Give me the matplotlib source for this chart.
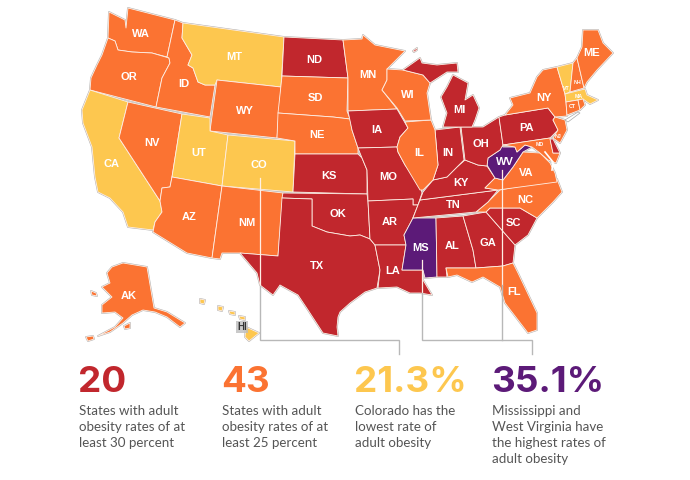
import matplotlib
matplotlib.use('Agg')
import matplotlib.pyplot as plt
from matplotlib.patches import Polygon

# tiers of the map, one list per colour
top_states = ['WV', 'MS']
high_states = ['ND', 'IA', 'KS', 'MO', 'OK', 'TX', 'AR', 'LA', 'AL', 'GA', 'SC', 'TN', 'KY', 'IN', 'OH', 'MI', 'MI2',
               'MI3', 'PA', 'DE']
mid_states = ['WA', 'OR', 'ID', 'WY', 'SD', 'NE', 'NV', 'AZ', 'NM', 'MN', 'WI', 'IL', 'FL', 'NC', 'VA', 'MD', 'NJ',
              'NY', 'NH', 'ME', 'CT', 'RI', 'AK', 'AK2', 'AK3', 'AK4']
low_states = ['CA', 'MT', 'UT', 'CO', 'VT', 'MA', 'HI', 'HI2', 'HI3', 'HI4', 'HI5']

big_numbers = ['20', '43', '21.3%', '35.1%']
captions = [
    ['States with adult', 'obesity rates of at', 'least 30 percent'],
    ['States with adult', 'obesity rates of at', 'least 25 percent'],
    ['Colorado has the', 'lowest rate of', 'adult obesity'],
    ['Mississippi and', 'West Virginia have', 'the highest rates of', 'adult obesity'],
]

# state outlines
outlines = {
    'WA': [(109, 12), (125, 20), (126, 28), (128, 8), (175, 20), (167, 57), (152, 53), (132, 52), (118, 50), (115, 41),
           (108, 38)],
    'OR': [(108, 38), (115, 41), (118, 50), (132, 52), (152, 53), (169, 58), (170, 63), (162, 78), (156, 107), (90, 90),
           (91, 78), (97, 65), (102, 55)],
    'CA': [(90, 90), (128, 102), (119, 138), (160, 201), (162, 212), (155, 222), (153, 230), (128, 227), (123, 212),
           (110, 198), (98, 192), (95, 177), (92, 147), (83, 123), (82, 110)],
    'NV': [(128, 102), (182, 114), (172, 177), (170, 187), (162, 188), (160, 201), (119, 138)],
    'ID': [(175, 20), (183, 23), (182, 38), (192, 55), (188, 65), (193, 68), (198, 82), (205, 85), (215, 85), (210, 117),
           (156, 107), (162, 78), (170, 63), (169, 58), (167, 57)],
    'MT': [(183, 23), (284, 37), (281, 87), (217, 80), (215, 85), (205, 85), (198, 82), (193, 68), (188, 65), (192, 55),
           (182, 38)],
    'WY': [(217, 80), (281, 87), (277, 138), (210, 131)],
    'UT': [(182, 114), (210, 118), (210, 131), (228, 135), (222, 186), (172, 177)],
    'CO': [(228, 135), (295, 141), (293, 192), (222, 186)],
    'AZ': [(172, 177), (222, 186), (212, 258), (187, 253), (153, 232), (155, 222), (162, 212), (160, 201), (162, 188),
           (170, 187)],
    'NM': [(222, 186), (283, 193), (278, 256), (239, 253), (222, 253), (220, 259), (212, 258)],
    'ND': [(284, 37), (343, 40), (348, 78), (282, 76)],
    'SD': [(282, 76), (348, 78), (347, 111), (350, 119), (333, 117), (278, 113)],
    'NE': [(278, 113), (333, 117), (350, 119), (352, 130), (358, 148), (358, 154), (295, 154), (295, 141), (277, 138)],
    'KS': [(295, 154), (358, 154), (362, 158), (367, 170), (367, 194), (293, 192)],
    'OK': [(283, 193), (367, 194), (368, 201), (370, 239), (360, 235), (350, 236), (327, 232), (312, 226), (312, 199),
           (282, 198)],
    'TX': [(282, 198), (312, 199), (312, 226), (327, 232), (350, 236), (360, 235), (370, 239), (375, 245), (380, 270),
           (377, 288), (365, 292), (350, 303), (340, 312), (338, 317), (337, 327), (338, 336), (323, 333), (308, 310),
           (298, 295), (280, 285), (273, 295), (260, 285), (257, 273), (240, 253), (278, 256)],
    'MN': [(343, 40), (362, 39), (363, 35), (375, 45), (405, 51), (387, 69), (387, 80), (382, 90), (397, 109), (348, 111),
           (348, 78)],
    'IA': [(348, 111), (397, 109), (408, 128), (400, 137), (397, 147), (358, 148), (352, 130)],
    'MO': [(358, 148), (397, 147), (398, 152), (405, 165), (415, 178), (420, 185), (422, 193), (418, 205), (413, 205),
           (413, 199), (368, 201), (367, 170), (362, 158)],
    'AR': [(368, 201), (413, 199), (413, 205), (418, 205), (412, 220), (404, 235), (406, 245), (375, 245), (370, 239)],
    'LA': [(375, 245), (406, 245), (402, 270), (423, 270), (423, 280), (432, 295), (420, 293), (410, 293), (397, 287),
           (378, 288), (380, 270)],
    'MS': [(413, 218), (436, 218), (437, 277), (425, 278), (423, 270), (402, 270), (406, 245), (404, 235)],
    'AL': [(436, 218), (463, 216), (473, 250), (476, 268), (446, 268), (447, 277), (437, 277)],
    'GA': [(463, 216), (486, 212), (515, 245), (513, 263), (503, 266), (476, 268), (473, 250)],
    'SC': [(486, 212), (490, 208), (520, 208), (537, 218), (528, 235), (515, 245)],
    'FL': [(446, 268), (476, 268), (503, 266), (513, 263), (518, 273), (537, 313), (537, 330), (528, 333), (505, 303),
           (500, 287), (483, 277), (472, 282), (457, 275), (448, 277)],
    'NC': [(500, 190), (557, 179), (562, 192), (553, 202), (537, 218), (520, 208), (490, 208), (486, 212), (476, 212),
           (488, 202)],
    'TN': [(420, 200), (498, 190), (488, 202), (476, 212), (413, 218), (418, 205)],
    'KY': [(423, 192), (433, 180), (447, 177), (457, 167), (465, 160), (478, 165), (487, 166), (495, 178), (485, 188),
           (498, 190), (420, 200)],
    'VA': [(485, 188), (495, 178), (503, 180), (513, 167), (523, 152), (540, 153), (550, 163), (555, 173), (557, 182),
           (498, 190)],
    'WV': [(501, 145), (503, 147), (515, 147), (517, 152), (525, 145), (532, 147), (523, 152), (513, 167), (503, 180),
           (495, 178), (487, 165), (488, 158), (500, 150)],
    'OH': [(461, 127), (473, 127), (483, 127), (499, 117), (503, 145), (500, 150), (488, 158), (487, 166), (478, 165),
           (465, 160)],
    'IN': [(435, 130), (460, 127), (464, 160), (457, 167), (447, 177), (433, 180), (438, 165)],
    'IL': [(405, 122), (431, 120), (435, 130), (438, 165), (433, 180), (423, 190), (420, 190), (405, 165), (398, 152),
           (397, 147), (400, 137), (408, 128)],
    'WI': [(387, 69), (403, 70), (423, 75), (430, 83), (427, 93), (431, 120), (405, 121), (397, 108), (382, 90), (387, 80)],
    'MI': [(453, 75), (468, 83), (465, 100), (473, 95), (479, 108), (475, 120), (472, 127), (443, 127), (447, 113),
           (441, 97), (447, 87)],
    'MI2': [(403, 70), (420, 58), (422, 63), (437, 65), (457, 63), (458, 72), (447, 72), (430, 83), (423, 75)],
    'MI3': [(413, 51), (417, 48), (417, 50), (414, 52)],
    'PA': [(499, 117), (505, 115), (548, 108), (555, 117), (553, 120), (558, 130), (550, 138), (503, 145)],
    'NY': [(505, 115), (513, 105), (510, 98), (530, 93), (537, 77), (543, 70), (557, 67), (565, 94), (566, 102),
           (567, 116), (555, 117), (548, 108)],
    'VT': [(557, 67), (573, 63), (570, 92), (565, 94)],
    'NH': [(573, 63), (577, 58), (584, 88), (570, 92)],
    'ME': [(577, 58), (582, 47), (583, 30), (598, 30), (603, 43), (613, 53), (597, 70), (587, 82), (584, 88)],
    'MA': [(565, 94), (585, 89), (587, 95), (598, 100), (590, 104), (583, 99), (566, 102)],
    'CT': [(566, 102), (578, 100), (580, 110), (567, 115)],
    'RI': [(578, 100), (583, 99), (585, 105), (580, 110)],
    'NJ': [(555, 117), (565, 120), (567, 130), (560, 143), (553, 138), (558, 130), (553, 120)],
    'MD': [(503, 145), (550, 138), (553, 153), (560, 153), (556, 163), (548, 160), (540, 153), (532, 147), (525, 145),
           (517, 152), (515, 147)],
    'DE': [(550, 139), (553, 139), (560, 153), (553, 153)],
    'AK': [(123, 263), (147, 267), (154, 308), (167, 312), (185, 323), (180, 327), (167, 317), (155, 312), (143, 310),
           (132, 315), (123, 323), (110, 332), (98, 336), (115, 327), (123, 318), (115, 312), (102, 313), (102, 305),
           (112, 297), (102, 287), (110, 283), (107, 273), (112, 267)],
    'AK2': [(91, 291), (96, 293), (97, 296), (92, 295)],
    'AK3': [(86, 337), (93, 336), (94, 339), (88, 341)],
    'AK4': [(124, 326), (130, 323), (130, 328), (125, 329)],
    'HI': [(246, 327), (259, 333), (249, 341), (245, 337)],
    'HI2': [(239, 316), (245, 317), (245, 320), (240, 319)],
    'HI3': [(229, 311), (235, 312), (235, 315), (230, 314)],
    'HI4': [(218, 306), (223, 307), (222, 311), (218, 310)],
    'HI5': [(200, 299), (205, 300), (204, 304), (200, 303)],
}

state_labels = {
    'WA': (141, 34), 'OR': (129, 77), 'CA': (112, 164), 'NV': (152, 143), 'ID': (184, 84), 'MT': (234, 57),
    'WY': (245, 111), 'UT': (199, 153), 'CO': (259, 165), 'AZ': (189, 217), 'NM': (247, 223), 'ND': (314, 60),
    'SD': (315, 98), 'NE': (317, 135), 'KS': (329, 176), 'OK': (338, 214), 'TX': (317, 266), 'MN': (368, 75),
    'IA': (377, 130), 'MO': (388, 177), 'AR': (390, 222), 'LA': (393, 271), 'WI': (408, 95), 'IL': (419, 153),
    'MS': (421, 248), 'AL': (452, 246), 'TN': (453, 205), 'GA': (488, 243), 'SC': (513, 223), 'FL': (514, 292),
    'NC': (525, 200), 'VA': (526, 173), 'KY': (461, 183), 'IN': (448, 153), 'OH': (481, 144), 'MI': (459, 110),
    'PA': (527, 128), 'NY': (544, 98), 'WV': (505, 162), 'ME': (592, 53), 'AK': (129, 296),
}
small_labels = {'VT': (566, 89), 'NH': (577, 83), 'MA': (579, 96), 'CT': (572, 107), 'NJ': (558, 137), 'MD': (540, 145)}

RED = '#C1272D'
ORANGE = '#FB7332'
YELLOW = '#FDC74F'
PURPLE = '#5C1A78'
LEADER = '#B8B8B8'

colors = {}
for names, c in [(top_states, PURPLE), (high_states, RED), (mid_states, ORANGE), (low_states, YELLOW)]:
    for n in names:
        colors[n] = c

fig = plt.figure(figsize=(6.9, 4.8), dpi=100)
ax = fig.add_axes([0, 0, 1, 1])
ax.set_xlim(0, 690)
ax.set_ylim(480, 0)
ax.axis('off')

# grey halo first, the fills then hide it on inland borders
for name, pts in outlines.items():
    ax.add_patch(Polygon(pts, closed=True, fc='none', ec='#B0B0B0', lw=1.3, joinstyle='round', zorder=1))
for name, pts in outlines.items():
    ax.add_patch(Polygon(pts, closed=True, fc=colors[name], ec='#FFEFE5', lw=0.6, joinstyle='round', zorder=2))

# Long Island and the Chesapeake are white
ax.add_patch(Polygon([(565, 120), (578, 112), (580, 113), (568, 122)], closed=True, fc='white', ec='#A8A8A8', lw=0.5,
                     zorder=3))
ax.plot([545, 553, 552], [152, 162, 170], color='white', lw=1.2, zorder=3)

# leader lines, white over the map and grey outside it
ax.plot([260, 260], [178, 286], color='#FFEFE5', lw=0.9, zorder=4)
ax.plot([260, 260, 399, 399], [286, 340, 340, 354], color=LEADER, lw=1.0, zorder=4, solid_joinstyle='miter')
ax.plot([422, 422], [260, 293], color='#FFEFE5', lw=0.9, zorder=4)
ax.plot([422, 422, 532, 532], [293, 340, 340, 354], color=LEADER, lw=1.0, zorder=4, solid_joinstyle='miter')
ax.plot([502, 502], [170, 285], color='#FFEFE5', lw=0.9, zorder=4)
ax.plot([502, 502], [285, 340], color=LEADER, lw=1.0, zorder=4)

for name, (x, y) in state_labels.items():
    ax.text(x, y, name, color='white', fontsize=8, fontweight='bold', family='Liberation Sans', ha='center',
            va='center', zorder=5)
for name, (x, y) in small_labels.items():
    ax.text(x, y, name, color='white', fontsize=3.8, fontweight='bold', family='Liberation Sans', ha='center',
            va='center', zorder=5)
ax.text(242, 327, 'HI', color='#333333', fontsize=7, fontweight='bold', family='Liberation Sans', ha='center',
        va='center', zorder=5, bbox=dict(fc='#BDBDBD', ec='none', pad=0.6, alpha=0.8))

# the four call-outs under the map
for x, num, c, lines in zip([79, 222, 355, 492], big_numbers, [RED, ORANGE, YELLOW, PURPLE], captions):
    ax.text(x - 1, 392, num, color=c, fontsize=26.5, fontweight='bold', family='Inter', ha='left', va='baseline')
    for i, line in enumerate(lines):
        ax.text(x, 415 + i * 16, line, color='#555555', fontsize=9.6, family='Lato', ha='left', va='baseline')

fig.savefig('out.png', dpi=100)
